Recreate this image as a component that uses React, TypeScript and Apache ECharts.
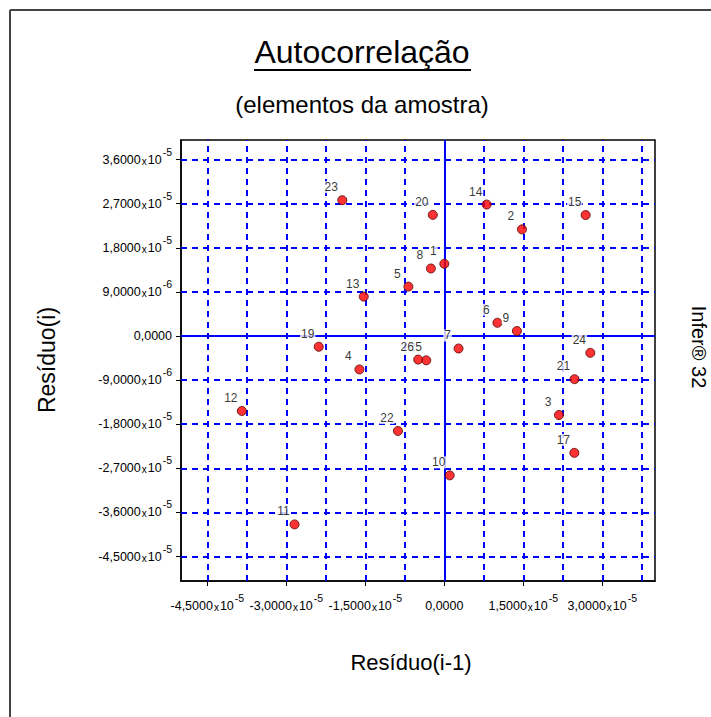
import React, { useEffect, useRef } from "react";
import * as echarts from "echarts";

// Observation numbers (16 and 18 are absent in the chart)
const pointLabels = ["1", "2", "3", "4", "5", "6", "7", "8", "9", "10", "11", "12", "13", "14", "15", "17", "19", "20", "21", "22", "23", "24", "25", "26"];
// Residual of the previous observation (x)
const residualPrev = [0, 1.474e-5, 2.177e-5, -1.612e-5, -6.82e-6, 1.008e-5, 2.7e-6, -2.55e-6, 1.378e-5, 1.02e-6, -2.844e-5, -3.845e-5, -1.53e-5, 8.04e-6, 2.683e-5, 2.469e-5, -2.385e-5, -2.19e-6, 2.472e-5, -8.81e-6, -1.938e-5, 2.772e-5, -3.43e-6, -4.97e-6];
// Residual of the observation (y)
const residual = [1.474e-5, 2.177e-5, -1.612e-5, -6.82e-6, 1.008e-5, 2.7e-6, -2.55e-6, 1.378e-5, 1.02e-6, -2.844e-5, -3.845e-5, -1.53e-5, 8.04e-6, 2.683e-5, 2.469e-5, -2.385e-5, -2.19e-6, 2.472e-5, -8.81e-6, -1.938e-5, 2.772e-5, -3.43e-6, -4.97e-6, -4.81e-6];

const xTickValues = [-4.5e-5, -3.0e-5, -1.5e-5, 0, 1.5e-5, 3.0e-5];
const yTickValues = [-4.5e-5, -3.6e-5, -2.7e-5, -1.8e-5, -9e-6, 0, 9e-6, 1.8e-5, 2.7e-5, 3.6e-5];
const xGridValues = [-4.5e-5, -3.75e-5, -3.0e-5, -2.25e-5, -1.5e-5, -7.5e-6, 7.5e-6, 1.5e-5, 2.25e-5, 3.0e-5, 3.75e-5];
const yGridValues = [-4.5e-5, -3.6e-5, -2.7e-5, -1.8e-5, -9e-6, 9e-6, 1.8e-5, 2.7e-5, 3.6e-5];
const axisMin = -5e-5;
const axisMax = 4e-5;

const FONT = "'Liberation Sans', Arial, sans-serif";
const BLUE = "#0000FF";

function fmt(v: number): string {
  if (Math.abs(v) < 1e-12) return "{m|0,0000}";
  const e = Math.floor(Math.log10(Math.abs(v)) + 1e-9);
  const m = v / Math.pow(10, e);
  return `{m|${m.toFixed(4).replace(".", ",")}}{x|x}{t|10}{s|${e}}`;
}

const rich = {
  m: { fontSize: 12.5, fontFamily: FONT, color: "#000", padding: [7, 0, 0, 0], verticalAlign: "bottom" },
  x: { fontSize: 10, fontFamily: FONT, color: "#000", padding: [9, 1, 0, 1], verticalAlign: "bottom" },
  t: { fontSize: 12.5, fontFamily: FONT, color: "#000", padding: [7, 1, 0, 0], verticalAlign: "bottom" },
  s: { fontSize: 10.5, fontFamily: FONT, color: "#000", verticalAlign: "top" },
};

export default function App() {
  const ref = useRef<HTMLDivElement>(null);
  useEffect(() => {
    if (!ref.current) return;
    const chart = echarts.init(ref.current, null, { renderer: "svg" });
    const points = residualPrev.map((x, i) => ({ value: [x, residual[i]], name: pointLabels[i] }));
    const dash = { color: BLUE, type: [6, 5], width: 2 };
    const option: any = {
      animation: false,
      backgroundColor: "#fff",
      grid: { left: 181, top: 140, width: 474, height: 441, show: true, borderColor: "#000", borderWidth: 1.5, backgroundColor: "transparent" },
      xAxis: {
        type: "value",
        min: axisMin,
        max: axisMax,
        axisLine: { show: true, onZero: false, lineStyle: { color: "#000", width: 1.5 } },
        axisTick: { show: true, inside: false, length: 5, customValues: xTickValues, lineStyle: { color: "#000", width: 1 } },
        axisLabel: { customValues: xTickValues, formatter: fmt, rich, margin: 11, hideOverlap: false },
        splitLine: { show: false },
      },
      yAxis: {
        type: "value",
        min: axisMin,
        max: axisMax,
        axisLine: { show: true, onZero: false, lineStyle: { color: "#000", width: 1.5 } },
        axisTick: { show: true, inside: false, length: 5, customValues: yTickValues, lineStyle: { color: "#000", width: 1 } },
        axisLabel: { customValues: yTickValues, formatter: fmt, rich, margin: 9, padding: [0, 0, 7, 0], hideOverlap: false },
        splitLine: { show: false },
      },
      series: [
        {
          type: "scatter",
          z: 5,
          data: points,
          symbol: "circle",
          symbolSize: 9,
          itemStyle: { color: "#FF0000", borderColor: "#500000", borderWidth: 1 },
          label: {
            show: true,
            position: "top",
            distance: 3,
            offset: [-11, 1],
            formatter: (p: any) => p.name,
            color: "#000",
            fontSize: 12,
            fontFamily: FONT,
            backgroundColor: "#fff",
            padding: [0, 1, 0, 1],
          },
          markLine: {
            silent: true,
            z: 1,
            precision: 12,
            symbol: "none",
            label: { show: false },
            lineStyle: dash,
            emphasis: { disabled: true },
            data: [
              ...xGridValues.map((v) => ({ xAxis: v, lineStyle: dash })),
              ...yGridValues.map((v) => ({ yAxis: v, lineStyle: dash })),
              { xAxis: 0, lineStyle: { color: BLUE, type: "solid", width: 2 } },
              { yAxis: 0, lineStyle: { color: BLUE, type: "solid", width: 2 } },
            ],
          },
        },
      ],
      graphic: [
        { type: "line", shape: { x1: 10, y1: 10, x2: 711, y2: 10 }, style: { stroke: "#444", lineWidth: 2 } },
        { type: "line", shape: { x1: 10, y1: 10, x2: 10, y2: 717 }, style: { stroke: "#444", lineWidth: 2 } },
        { type: "text", x: 362, y: 52, style: { text: "Autocorrelação", font: `32px ${FONT}`, fill: "#000", align: "center", verticalAlign: "middle" } },
        { type: "line", shape: { x1: 254, y1: 70, x2: 471, y2: 70 }, style: { stroke: "#000", lineWidth: 2 } },
        { type: "text", x: 362, y: 104, style: { text: "(elementos da amostra)", font: `24px ${FONT}`, fill: "#000", align: "center", verticalAlign: "middle" } },
        { type: "text", x: 47, y: 360, rotation: Math.PI / 2, style: { text: "Resíduo(i)", font: `23px ${FONT}`, fill: "#000", align: "center", verticalAlign: "middle" } },
        { type: "text", x: 411, y: 662, style: { text: "Resíduo(i-1)", font: `22px ${FONT}`, fill: "#000", align: "center", verticalAlign: "middle" } },
        { type: "text", x: 699, y: 347, rotation: -Math.PI / 2, style: { text: "Infer® 32", font: `20px ${FONT}`, fill: "#000", align: "center", verticalAlign: "middle" } },
      ],
    };
    chart.setOption(option);
    return () => chart.dispose();
  }, []);
  return <div ref={ref} style={{ position: "fixed", left: 0, top: 0, width: 711, height: 717 }} />;
}
